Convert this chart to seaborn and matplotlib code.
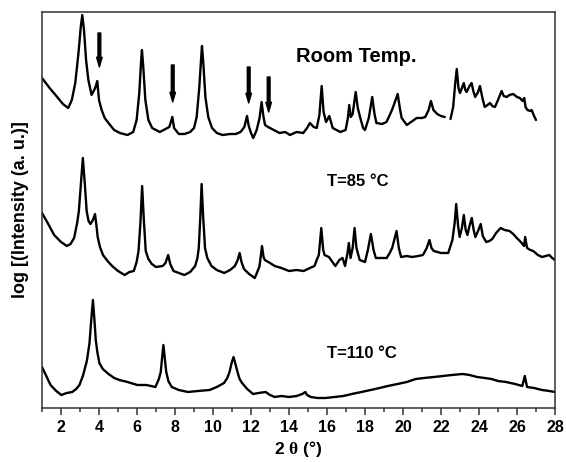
import numpy as np
import pandas as pd
import matplotlib
matplotlib.use("Agg")
import matplotlib.pyplot as plt
from matplotlib.ticker import MultipleLocator
import seaborn as sns

# ---- XRD patterns (2-theta in degrees, offset log intensity in arbitrary units) ----
rt_2theta = [1.0, 1.4, 1.8, 2.1, 2.38, 2.57, 2.75, 2.92, 3.04, 3.12, 3.21, 3.32, 3.44, 3.61,
             3.8, 3.91, 4.0, 4.14, 4.3, 4.58, 4.8, 5.1, 5.5, 5.8, 5.98, 6.12, 6.21, 6.26,
             6.33, 6.44, 6.6, 6.8, 7.2, 7.5, 7.7, 7.86, 7.95, 8.2, 8.5, 8.8, 9.0, 9.14,
             9.28, 9.37, 9.42, 9.49, 9.6, 9.75, 9.95, 10.2, 10.5, 10.9, 11.2, 11.45, 11.65,
             11.79, 11.88, 12.0, 12.12, 12.3, 12.45, 12.56, 12.65, 12.74, 12.9, 13.2, 13.5,
             13.8, 14.05, 14.4, 14.75, 14.95, 15.1, 15.3, 15.46, 15.6, 15.72, 15.82, 15.95,
             16.12, 16.3, 16.5, 16.7, 16.98, 17.1, 17.17, 17.25, 17.35, 17.51, 17.62, 17.74,
             17.9, 18.0, 18.2, 18.38, 18.5, 18.6, 18.9, 19.13, 19.35, 19.48, 19.72, 19.85,
             19.93, 20.2, 20.5, 20.72, 21.0, 21.17, 21.35, 21.47, 21.6, 21.8, 22.0, 22.2,
             22.5, 22.64, 22.75, 22.83, 22.92, 23.0, 23.1, 23.2, 23.28, 23.35, 23.5, 23.61,
             23.7, 23.8, 23.95, 24.05, 24.18, 24.3, 24.45, 24.58, 24.7, 24.84, 25.0, 25.19,
             25.3, 25.46, 25.6, 25.8, 26.0, 26.15, 26.3, 26.38, 26.45, 26.55, 26.7, 26.77,
             26.9, 27.0]
rt_intensity = [330, 320, 311, 304, 300, 308, 325, 355, 381, 393, 378, 348, 328, 313,
                320, 327, 308, 298, 290, 283, 278, 275, 273, 276, 288, 315, 345, 358,
                341, 308, 288, 280, 276, 279, 281, 291, 280, 274, 274, 276, 280, 291,
                321, 348, 362, 345, 311, 291, 280, 275, 273, 274, 274, 276, 281,
                292, 282, 275, 270, 278, 290, 306, 292, 283, 281, 278, 275,
                276, 273, 276, 275, 280, 285, 281, 280, 293, 322, 296, 286,
                292, 280, 278, 276, 278, 290, 303, 291, 294, 316, 300, 291,
                280, 278, 290, 311, 294, 285, 284, 286, 295, 301, 314, 298,
                290, 283, 287, 290, 290, 291, 298, 307, 298, 294, 292, 291,
                289, 301, 325, 339, 320, 315, 320, 325, 318, 316, 322, 325,
                317, 311, 316, 322, 310, 301, 303, 305, 302, 301, 308, 317,
                312, 311, 313, 314, 311, 310, 307, 310, 301, 298, 297, 298,
                292, 288]
# the room-temperature scan has a short break in the record
rt_break_after = 22.2

t85_2theta = [1.0, 1.3, 1.64, 2.0, 2.31, 2.5, 2.69, 2.85, 2.94, 3.05, 3.15, 3.25, 3.35, 3.45,
              3.55, 3.68, 3.79, 3.88, 3.93, 4.05, 4.21, 4.45, 4.69, 5.0, 5.35, 5.6, 5.83,
              5.98, 6.08, 6.18, 6.27, 6.36, 6.46, 6.6, 6.78, 7.0, 7.35, 7.5, 7.64, 7.75,
              7.92, 8.2, 8.49, 8.8, 9.06, 9.18, 9.25, 9.33, 9.4, 9.48, 9.58, 9.7, 9.92,
              10.2, 10.59, 10.9, 11.15, 11.3, 11.4, 11.5, 11.63, 11.9, 12.2, 12.35, 12.45,
              12.58, 12.66, 12.73, 13.0, 13.25, 13.6, 14.0, 14.4, 14.77, 15.1, 15.34, 15.5,
              15.57, 15.7, 15.8, 15.87, 16.1, 16.25, 16.44, 16.65, 16.82, 16.95, 17.08,
              17.15, 17.24, 17.35, 17.45, 17.55, 17.72, 18.0, 18.15, 18.31, 18.45, 18.57,
              18.9, 19.14, 19.3, 19.43, 19.66, 19.78, 19.9, 20.2, 20.48, 20.8, 21.05, 21.25,
              21.39, 21.5, 21.62, 22.0, 22.38, 22.6, 22.72, 22.8, 22.9, 22.98, 23.1, 23.2,
              23.3, 23.39, 23.5, 23.62, 23.72, 23.81, 23.95, 24.09, 24.2, 24.38, 24.55,
              24.7, 24.9, 25.14, 25.35, 25.61, 25.8, 25.99, 26.2, 26.37, 26.43, 26.53, 26.7,
              26.85, 27.1, 27.32, 27.5, 27.7, 27.85, 28.0]
t85_intensity = [195, 185, 173, 166, 162, 164, 170, 185, 197, 225, 250, 225, 197, 187,
                 184, 188, 194, 180, 171, 161, 153, 147, 142, 137, 133, 136, 137,
                 146, 157, 185, 222, 188, 157, 149, 144, 141, 142, 145, 153, 144,
                 137, 135, 133, 136, 142, 150, 160, 190, 224, 192, 160, 150, 142,
                 138, 135, 138, 142, 148, 155, 146, 139, 134, 130, 137, 142,
                 162, 151, 148, 145, 142, 140, 137, 138, 137, 140, 142, 150,
                 153, 180, 158, 153, 151, 147, 142, 148, 150, 142, 155,
                 165, 150, 160, 180, 160, 148, 146, 158, 174, 158, 150,
                 150, 150, 155, 160, 177, 160, 151, 152, 151, 152, 153, 160,
                 168, 160, 157, 155, 155, 168, 185, 204, 182, 171, 180, 193,
                 178, 173, 182, 190, 178, 171, 177, 184, 172, 166, 167,
                 169, 175, 180, 178, 177, 174, 170, 166, 162, 171, 160, 158,
                 157, 153, 151, 152, 153, 150, 148]

t110_2theta = [1.0, 1.2, 1.45, 1.75, 2.02, 2.3, 2.59, 2.8, 2.97, 3.15, 3.36, 3.5, 3.6, 3.68,
               3.76, 3.83, 3.92, 4.02, 4.2, 4.5, 4.8, 5.07, 5.5, 6.02, 6.5, 6.97, 7.15,
               7.25, 7.32, 7.39, 7.46, 7.54, 7.65, 7.83, 8.2, 8.68, 9.2, 9.82, 10.2, 10.58,
               10.75, 10.87, 10.98, 11.08, 11.18, 11.29, 11.4, 11.53, 11.8, 12.11, 12.4,
               12.77, 13.0, 13.25, 13.6, 14.0, 14.4, 14.7, 14.86, 14.95, 15.15, 15.5, 15.91,
               16.4, 16.86, 17.3, 17.81, 18.3, 18.76, 19.2, 19.71, 20.2, 20.67, 21.1, 21.62,
               22.1, 22.57, 23.14, 23.5, 23.9, 24.3, 24.66, 25.0, 25.42, 25.9, 26.28, 26.41,
               26.53, 26.9, 27.32, 27.7, 28.0]
t110_intensity = [41, 33, 23, 17, 13, 15, 16, 19, 23, 32, 47, 65, 90, 108,
                  88, 68, 55, 45, 39, 34, 30, 28, 26, 23, 23, 21, 29,
                  36, 50, 63, 50, 36, 27, 21, 18, 16, 17, 18, 21, 25,
                  30, 36, 45, 51, 44, 36, 29, 25, 19, 14, 15,
                  16, 13, 11, 12, 11, 12, 14, 16, 13, 11, 10, 10,
                  11, 12, 14, 16, 18, 20, 22, 24, 26, 29, 30, 31,
                  32, 33, 34, 33, 31, 30, 29, 27, 26, 24, 22, 32,
                  21, 20, 18, 17, 16]

# ---- annotations ----
arrow_2theta = [4.02, 7.88, 11.88, 12.93]
arrow_tail = [375, 343, 341, 331]
arrow_tip = [341, 306, 305, 296]

label_texts = ["Room Temp.", "T=85 °C", "T=110 °C"]
label_x = [14.37, 16.0, 16.0]
label_y = [346, 222, 50]
label_sizes = [14.5, 12, 12]

x_ticks = list(range(2, 29, 2))

# ---- assemble a long table ----
rt_seg = ["rt_a" if t <= rt_break_after else "rt_b" for t in rt_2theta]
frames = [
    pd.DataFrame({"two_theta": rt_2theta, "intensity": rt_intensity, "scan": rt_seg}),
    pd.DataFrame({"two_theta": t85_2theta, "intensity": t85_intensity, "scan": "t85"}),
    pd.DataFrame({"two_theta": t110_2theta, "intensity": t110_intensity, "scan": "t110"}),
]
df = pd.concat(frames, ignore_index=True)

sns.set_theme(style="white")
plt.rcParams["font.family"] = ["Liberation Sans", "DejaVu Sans"]
plt.rcParams["font.weight"] = "bold"
plt.rcParams["text.color"] = "black"
plt.rcParams["axes.labelcolor"] = "black"
plt.rcParams["xtick.color"] = "black"
plt.rcParams["xtick.labelcolor"] = "black"
plt.rcParams["mathtext.fontset"] = "custom"
plt.rcParams["mathtext.rm"] = "Liberation Serif"
plt.rcParams["mathtext.bf"] = "Liberation Sans:bold"
plt.rcParams["mathtext.it"] = "Liberation Serif:italic"

fig = plt.figure(figsize=(5.66, 4.62), dpi=100)
ax = fig.add_axes([42 / 566, 54 / 462, 513 / 566, 396 / 462])

sns.lineplot(data=df, x="two_theta", y="intensity", units="scan", estimator=None,
             sort=False, color="black", linewidth=1.7, ax=ax, legend=False)

for xa, yt, yh in zip(arrow_2theta, arrow_tail, arrow_tip):
    ax.annotate("", xy=(xa, yh), xytext=(xa, yt),
                arrowprops=dict(arrowstyle="simple,head_width=0.4,head_length=0.7,tail_width=0.2",
                                color="black", shrinkA=0, shrinkB=0, mutation_scale=10))

for txt, tx, ty, fs in zip(label_texts, label_x, label_y, label_sizes):
    ax.text(tx, ty, txt, fontsize=fs, fontweight="bold", ha="left", va="baseline",
            color="black")

ax.set_xlim(1, 28)
ax.set_ylim(0, 396)
ax.set_xticks(x_ticks)
ax.xaxis.set_minor_locator(MultipleLocator(1))
ax.set_yticks([])
ax.tick_params(axis="x", which="major", direction="out", length=5, width=1.1,
               color="#333333", labelcolor="black", labelsize=11.5, pad=3.5, bottom=True)
ax.tick_params(axis="x", which="minor", direction="out", length=3, width=1.1,
               color="#333333", bottom=True)
for lab in ax.get_xticklabels():
    lab.set_fontweight("bold")
for sp in ax.spines.values():
    sp.set_visible(True)
    sp.set_color("#333333")
    sp.set_linewidth(1.1)

ax.set_xlabel("2 $\\mathrm{\\theta}$ (°)", fontsize=12.5, fontweight="bold", labelpad=3,
              color="black")
ax.set_ylabel("log [(Intensity (a. u.)]", fontsize=13, fontweight="bold", labelpad=9,
              color="black")

fig.savefig("out.png", dpi=100, facecolor="white")
